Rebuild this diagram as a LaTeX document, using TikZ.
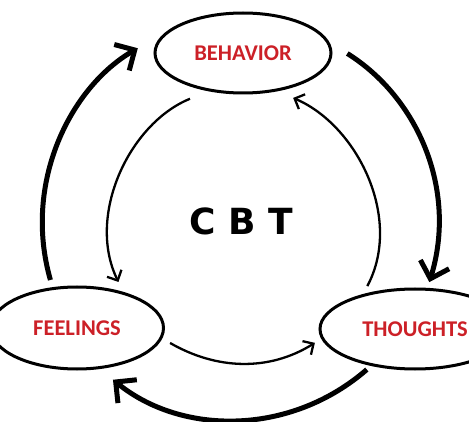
\documentclass[tikz,border=0pt]{standalone}
\usepackage{fontspec}
\usepackage{tikz}
\usetikzlibrary{shapes.geometric,arrows.meta}
\newfontfamily\labelfont{Carlito}
\newfontfamily\titlefont{DejaVu Sans}
\definecolor{cbtred}{RGB}{204,32,39}

\begin{document}
\begin{tikzpicture}[x=1pt, y=1pt,
		stage/.style={ellipse, draw, line width=3pt, inner sep=0pt, text=cbtred,
			font=\labelfont\bfseries\fontsize{22.5}{22.5}\selectfont},
		outerarrow/.style={line width=5pt, -{Straight Barb[length=15pt, width=30pt]}},
		innerarrow/.style={line width=2.3pt, -{Straight Barb[length=8pt, width=16pt]}}]
	\clip (0, 0) rectangle (469, 421);
	\node[stage, minimum width=176pt, minimum height=80pt] (behavior) at (243, 368) {BEHAVIOR};
	\node[stage, minimum width=173pt, minimum height=82pt] (feelings) at (77, 93) {FEELINGS};
	\node[stage, minimum width=190pt, minimum height=80pt] (thoughts) at (415, 92) {THOUGHTS};
	\node[font=\titlefont\bfseries\fontsize{36}{36}\selectfont] (cbt) at (241, 200) {C B T};
	% the big cycle
	\draw[outerarrow, shorten <=7.5pt, shorten >=32pt] (feelings.121) to[out=106, in=210] (behavior.165);
	\draw[outerarrow, shorten <=21pt, shorten >=6pt] (behavior.7) to[out=-32, in=73] (thoughts.73);
	\draw[outerarrow, shorten <=5.5pt, shorten >=17pt] (thoughts.220) to[out=-139, in=-39] (feelings.299);
	% the small one going the other way
	\draw[innerarrow, shorten <=20pt, shorten >=11pt] (behavior.228) to[out=202, in=116] (feelings.38);
	\draw[innerarrow, shorten <=9pt, shorten >=7.5pt] (feelings.-7) to[out=-30, in=212] (thoughts.186);
	\draw[innerarrow, shorten <=9pt, shorten >=17pt] (thoughts.146) to[out=62, in=-23] (behavior.-48);
\end{tikzpicture}
\end{document}
